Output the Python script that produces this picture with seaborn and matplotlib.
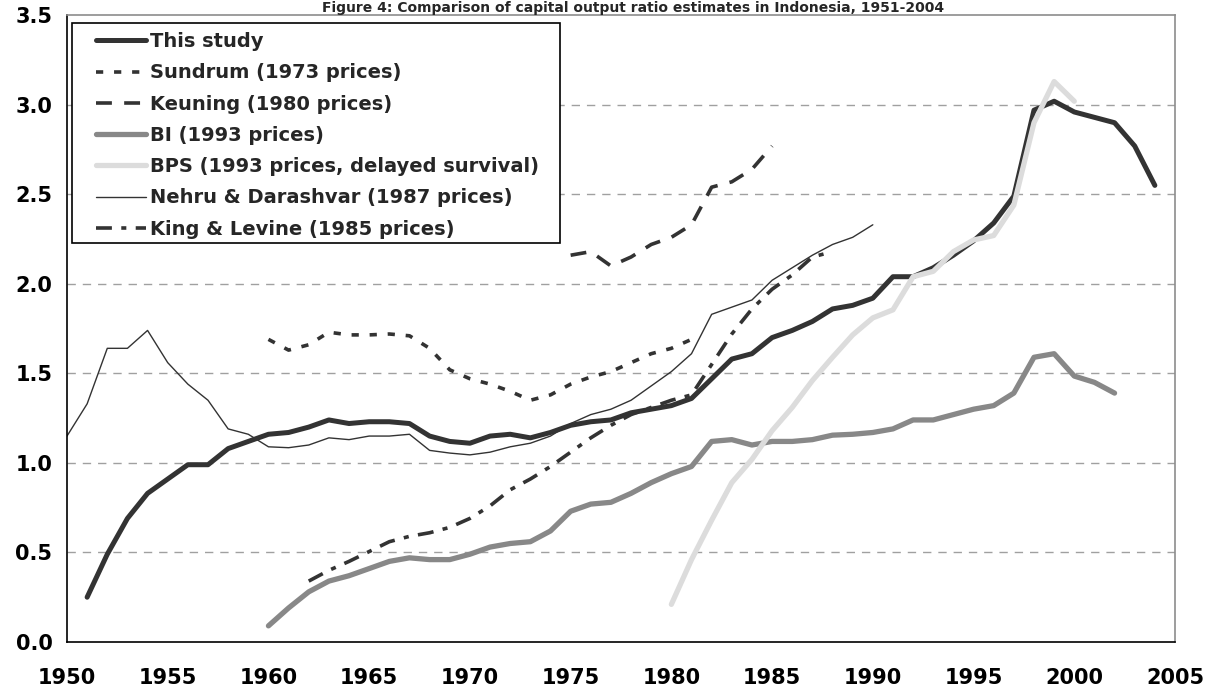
import numpy as np
import pandas as pd
import seaborn as sns
import matplotlib.pyplot as plt
from matplotlib.patches import Rectangle


# capital output ratio estimates
study_years = list(range(1951, 2005))
study_vals = [0.25, 0.49, 0.69, 0.83, 0.91, 0.99, 0.99, 1.08, 1.12, 1.16,
              1.17, 1.20, 1.24, 1.22, 1.23, 1.23, 1.22, 1.15, 1.12, 1.11,
              1.15, 1.16, 1.14, 1.17, 1.21, 1.23, 1.24, 1.28, 1.30, 1.32,
              1.36, 1.47, 1.58, 1.61, 1.70, 1.74, 1.79, 1.86, 1.88, 1.92,
              2.04, 2.04, 2.09, 2.16, 2.24, 2.34, 2.49, 2.97, 3.02, 2.96,
              2.93, 2.90, 2.77, 2.55]

sundrum_years = list(range(1960, 1982))
sundrum_vals = [1.69, 1.63, 1.66, 1.73, 1.715, 1.715, 1.72, 1.71, 1.64, 1.52,
                1.47, 1.44, 1.40, 1.35, 1.38, 1.44, 1.48, 1.51, 1.56, 1.61,
                1.64, 1.69]

keuning_years = list(range(1975, 1986))
keuning_vals = [2.16, 2.18, 2.10, 2.15, 2.22, 2.26, 2.33, 2.54, 2.57, 2.64, 2.77]

bi_years = list(range(1960, 2003))
bi_vals = [0.09, 0.19, 0.28, 0.34, 0.37, 0.41, 0.45, 0.47, 0.46, 0.46,
           0.49, 0.53, 0.55, 0.56, 0.62, 0.73, 0.77, 0.78, 0.83, 0.89,
           0.94, 0.98, 1.12, 1.13, 1.10, 1.12, 1.12, 1.13, 1.155, 1.16,
           1.17, 1.19, 1.24, 1.24, 1.27, 1.30, 1.32, 1.39, 1.59, 1.61,
           1.485, 1.45, 1.39]

bps_years = list(range(1980, 2001))
bps_vals = [0.21, 0.46, 0.68, 0.89, 1.02, 1.18, 1.31, 1.46, 1.59, 1.715,
            1.81, 1.855, 2.04, 2.07, 2.18, 2.245, 2.27, 2.44, 2.90, 3.13,
            3.02]

nehru_years = list(range(1950, 1991))
nehru_vals = [1.15, 1.33, 1.64, 1.64, 1.74, 1.56, 1.44, 1.35, 1.19, 1.16,
              1.09, 1.085, 1.10, 1.14, 1.13, 1.15, 1.15, 1.16, 1.07, 1.055,
              1.045, 1.06, 1.09, 1.11, 1.15, 1.22, 1.27, 1.30, 1.35, 1.43,
              1.51, 1.61, 1.83, 1.87, 1.91, 2.02, 2.09, 2.16, 2.22, 2.26,
              2.33]

kl_years = list(range(1962, 1989))
kl_vals = [0.34, 0.40, 0.45, 0.505, 0.56, 0.59, 0.61, 0.64, 0.69, 0.76,
           0.85, 0.91, 0.98, 1.06, 1.14, 1.21, 1.27, 1.31, 1.35, 1.38,
           1.55, 1.72, 1.86, 1.97, 2.05, 2.15, 2.18]

x_ticks = list(range(1950, 2006, 5))
y_ticks = [0.0, 0.5, 1.0, 1.5, 2.0, 2.5, 3.0, 3.5]

title = "Figure 4: Comparison of capital output ratio estimates in Indonesia, 1951-2004"

series = [
    ("This study", study_years, study_vals, dict(color='#333333', lw=3.6)),
    ("Sundrum (1973 prices)", sundrum_years, sundrum_vals,
     dict(color='#333333', lw=2.6, dashes=(2.0, 3.0))),
    ("Keuning (1980 prices)", keuning_years, keuning_vals,
     dict(color='#333333', lw=2.6, dashes=(4.4, 3.4))),
    ("BI (1993 prices)", bi_years, bi_vals, dict(color='#888888', lw=3.8)),
    ("BPS (1993 prices, delayed survival)", bps_years, bps_vals,
     dict(color='#dcdcdc', lw=3.8)),
    ("Nehru & Darashvar (1987 prices)", nehru_years, nehru_vals,
     dict(color='#333333', lw=1.0)),
    ("King & Levine (1985 prices)", kl_years, kl_vals,
     dict(color='#333333', lw=2.6, dashes=(4.4, 2.6, 1.4, 2.6))),
]

sns.set_style('white')
plt.rcParams['font.family'] = ['DejaVu Sans']
plt.rcParams['font.weight'] = 'bold'

fig = plt.figure(figsize=(12.18, 6.95), dpi=100)
ax = fig.add_axes([0.055, 0.0763, 0.9097, 0.9017])

for name, years, vals, style in series:
    df = pd.DataFrame({'year': years, 'ratio': vals})
    dashes = style.pop('dashes', None)
    sns.lineplot(data=df, x='year', y='ratio', ax=ax, label=name,
                 estimator=None, sort=False, **style)
    if dashes is not None:
        ax.lines[-1].set_dashes(dashes)
    ax.lines[-1].set_solid_joinstyle('round')
    ax.lines[-1].set_dash_joinstyle('round')

# horizontal dashed gridlines like the original
for yv in y_ticks[1:-1]:
    ax.axhline(yv, color='#a0a0a0', lw=1, dashes=(6, 5), zorder=0)

ax.set_xlim(1950, 2005)
ax.set_ylim(0, 3.5)
ax.set_xticks(x_ticks)
ax.set_yticks(y_ticks)
ax.set_yticklabels([f"{v:.1f}" for v in y_ticks])
ax.tick_params(axis='both', labelsize=15, length=7, width=1, colors='black',
               direction='out')
ax.tick_params(axis='x', pad=12)
for lab in ax.get_xticklabels() + ax.get_yticklabels():
    lab.set_fontweight('bold')
ax.set_xlabel('')
ax.set_ylabel('')

for side in ['left', 'bottom']:
    ax.spines[side].set_color('black')
    ax.spines[side].set_linewidth(1.2)
for side in ['top', 'right']:
    ax.spines[side].set_color('#8c8c8c')
    ax.spines[side].set_linewidth(1.2)

# legend without its own frame; box drawn separately so the handles sit indented
leg = ax.legend(loc='upper left', bbox_to_anchor=(0.026, 0.973),
                frameon=False, prop={'weight': 'bold', 'size': 14},
                handlelength=2.6, handletextpad=0.2, labelspacing=0.63,
                borderpad=0, borderaxespad=0)
ax.add_patch(Rectangle((0.0045, 0.636), 0.4405, 0.351, transform=ax.transAxes,
                       facecolor='white', edgecolor='black', lw=1.2,
                       zorder=4))
leg.set_zorder(5)

fig.text(0.52, 0.999, title, ha='center', va='top', fontsize=10,
         fontweight='bold')

plt.savefig('out.png', dpi=100)
